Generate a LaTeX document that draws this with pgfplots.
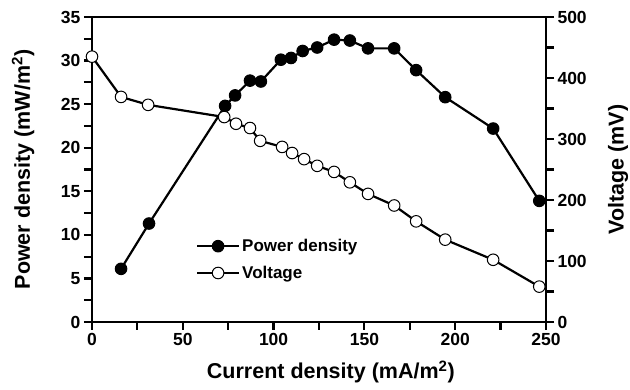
\documentclass[border=0pt]{standalone}
\usepackage{fontspec}
\setmainfont{Liberation Sans}
\usepackage{pgfplots}
\pgfplotsset{compat=1.18}
\begin{document}
\begin{tikzpicture}
\useasboundingbox (-92pt,-68pt) rectangle (538pt,322pt);
\pgfplotsset{
  common/.style={
    scale only axis, width=454pt, height=305pt,
    xmin=0, xmax=250,
    clip=false,
    axis line style={line width=2.4pt},
    tick style={line width=2.2pt, black},
    tick align=outside,
    major tick length=8pt, minor tick length=8pt,
    /pgf/number format/assume math mode=true,
    ticklabel style={font=\bfseries\fontsize{17.5}{20}\selectfont},
    label style={font=\bfseries\fontsize{21.5}{24}\selectfont},
  },
}
\begin{axis}[common,
  ymin=0, ymax=35,
  xtick={0,50,...,250}, minor x tick num=1,
  ytick={0,5,...,35}, minor y tick num=1,
  xtick pos=bottom, ytick pos=left,
  xlabel={Current density (mA/m\textsuperscript{2})},
  ylabel={Power density (mW/m\textsuperscript{2})},
  xlabel style={at={(axis description cs:0.526,-0.164)}, anchor=center},
  ylabel style={at={(axis description cs:-0.152,0.5)}, anchor=center},
  legend style={at={(0.222,0.285)}, anchor=north west, draw=none, fill=none,
    font=\bfseries\fontsize{17}{19}\selectfont, row sep=9pt,
    /tikz/every even column/.append style={column sep=2pt}},
  legend cell align=left,
  legend image code/.code={\draw[mark repeat=2,mark phase=2] plot coordinates {(0pt,0pt)(21pt,0pt)(42pt,0pt)};},
]
\addplot[line width=2.2pt, mark=*, mark size=5.8pt, mark options={fill=black, line width=1pt}] coordinates {
(16,6.1) (31.4,11.3) (73.3,24.8) (78.8,26.0) (87,27.7) (93,27.6)
(104,30.1) (109.6,30.3) (116,31.1) (124,31.5) (133.3,32.4) (142,32.3)
(152,31.4) (166.4,31.4) (178.5,28.9) (194.5,25.8) (220.9,22.2) (246.3,13.9)
};
\addlegendentry{Power density}
\addlegendimage{line width=2.2pt, mark=*, mark size=5.8pt, mark options={fill=white, line width=1pt}}
\addlegendentry{Voltage}
\end{axis}
\begin{axis}[common,
  ymin=0, ymax=500,
  axis x line=none, axis y line*=right,
  ytick={0,100,...,500}, minor y tick num=1,
  ytick pos=right,
  ylabel={Voltage (mV)},
  ylabel style={at={(axis description cs:1.1586,0.5)}, anchor=center, rotate=0},
]
\addplot[line width=2.2pt, mark=*, mark size=5.8pt, mark options={fill=white, line width=1pt}] coordinates {
(0,435) (16,369) (30.9,356) (72.8,336) (79.3,325) (87,318) (92.6,297)
(104.7,287) (110.2,277) (116.8,267) (124,256) (133.3,246) (142,229)
(152,210) (166.4,191) (178.5,165) (194.5,135) (220.9,102) (246.3,58)
};
\end{axis}
\end{tikzpicture}
\end{document}
